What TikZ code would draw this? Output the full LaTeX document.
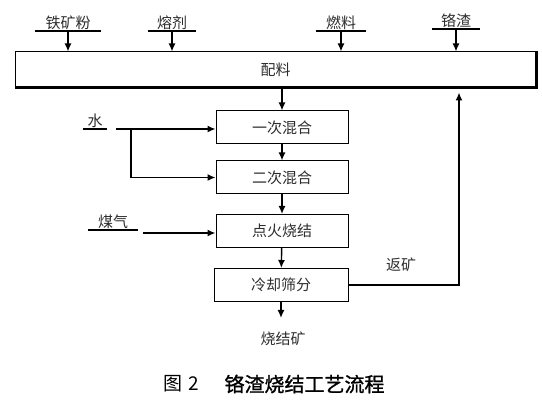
\documentclass[tikz,border=0pt]{standalone}
\usepackage{fontspec}
\newfontfamily\cjk{Noto Sans CJK SC}
\newfontfamily\cjkhei[FakeBold=1.2]{Noto Sans CJK SC}
\usepackage{xcolor}
\usetikzlibrary{arrows.meta}
\usetikzlibrary{positioning}
\definecolor{mytext}{RGB}{45,45,45}

\tikzset{
box/.style={draw, line width=1, minimum width=132, minimum height=33, inner sep=0, text=mytext, font=\cjk\fontsize{15}{15}\selectfont},
feed/.style={anchor=south, inner sep=1.5, text=mytext, font=\cjk\fontsize{15}{15}\selectfont},
uline/.style={line width=1.6},
flow/.style={-{Latex[length=8,width=7]}, line width=1.4},
}

\begin{document}
\begin{tikzpicture}[x=1pt, y=-1pt]
\useasboundingbox (0,0) rectangle (542,401);

\node[box, minimum width=521, minimum height=35] (peiliao) at (275.5,69.5) {配料};
\draw[line width=2.2] (peiliao.south west) -- (peiliao.south east) -- (peiliao.north east);

\node[box] (mix1) at (282,127.5) {一次混合};
\node[box] (mix2) at (282,177.5) {二次混合};
\node[box] (shaojie) at (282,231) {点火烧结};
\node[box, minimum width=134] (lengque) at (281,285) {冷却筛分};

\node[feed, minimum width=66] (tkf) at (68,31) {铁矿粉};
\node[feed, minimum width=48] (rongji) at (172,31) {熔剂};
\node[feed, minimum width=50] (ranliao) at (341,31) {燃料};
\node[feed, minimum width=48] (gezha) at (456,29) {铬渣};
\node[feed, minimum width=24] (shui) at (95,129) {水};
\node[feed, minimum width=50] (meiqi) at (113,230) {煤气};

\foreach \n in {tkf,rongji,ranliao,gezha,shui,meiqi}
  \draw[uline] (\n.south west) -- (\n.south east);

\foreach \n in {tkf,rongji,ranliao,gezha}
  \draw[flow] (\n.south) -- (\n.south |- peiliao.north);

\draw[flow] (mix1.north |- peiliao.south) -- (mix1.north);
\draw[flow] (mix1) -- (mix2);
\draw[flow] (mix2) -- (shaojie);
\draw[flow] (shaojie) -- (lengque);

\coordinate (wstart) at (116,129);
\coordinate (wsplit) at (131,129);
\draw[flow] (wstart) -- (wstart -| mix1.west);
\draw[flow] (wsplit) |- (mix2.west);

\coordinate (gstart) at (143,233);
\draw[flow] (gstart) -- (gstart -| shaojie.west);

\node[text=mytext, font=\cjk\fontsize{15}{15}\selectfont] (sjk) at (283,339) {烧结矿};
\draw[flow] (lengque.south) -- (lengque.south |- 0,318);

\coordinate (fk) at (459,0);
\draw[flow, shorten >=5] (lengque.east) -| (fk |- peiliao.south);
\node[text=mytext, font=\cjk\fontsize{15}{15}\selectfont] (fklabel) at (401,265) {返矿};

\node[font=\cjk\fontsize{19}{19}\selectfont] (tu) at (181,384) {图\,\,2};
\node[font=\cjkhei\fontsize{20}{20}\selectfont] (title) at (304.5,384) {铬渣烧结工艺流程};
\end{tikzpicture}
\end{document}
